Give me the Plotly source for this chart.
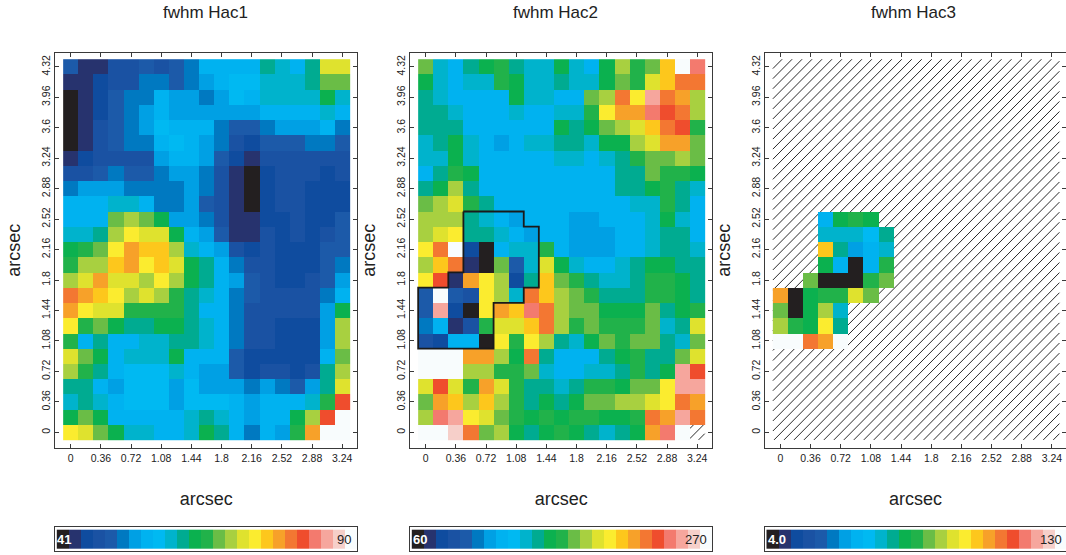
import plotly.graph_objects as go

W, H = 1066, 555
N = None

palette = ["#231F20", "#27336E", "#0F4C9F", "#1A52A3", "#1C5AA9", "#0079C1", "#00A0E4", "#00B2F0",
           "#00B9F2", "#00B3CC", "#00AB91", "#0BB14F", "#21B24A", "#6ABD46", "#A8D040", "#DFE22E",
           "#FBEC2F", "#FDC71C", "#F7A129", "#F37732", "#EF4D2D", "#F37A6E", "#F6A69D", "#F6CFC9", "#F8FCFD"]

# colour level of each spaxel; rows run from the top of the map (4.32) to the bottom (0)
hac1 = [
    [4,1,1,3,3,4,3,4,5,7,7,7,7,10,9,7,10,15,15],
    [1,1,2,3,3,5,5,4,5,6,7,8,8,9,9,9,10,13,13],
    [0,1,2,4,5,5,7,6,6,5,6,8,7,9,9,9,9,11,9],
    [0,1,2,4,5,6,7,6,6,6,6,6,6,7,7,7,7,9,7],
    [0,1,3,4,5,6,8,7,7,7,5,4,4,5,6,6,6,7,5],
    [0,1,3,4,5,5,7,8,7,6,5,3,2,4,4,4,5,5,4],
    [1,2,3,3,3,3,6,7,7,6,4,2,1,3,3,3,3,3,3],
    [3,3,4,5,4,4,5,6,6,5,3,1,0,2,3,3,3,2,3],
    [5,6,6,6,5,5,5,5,6,5,3,1,0,2,3,3,2,2,2],
    [7,7,7,9,9,7,5,5,6,4,3,1,0,2,3,3,2,2,2],
    [7,7,7,13,14,13,11,6,6,5,3,1,1,2,2,3,2,2,4],
    [9,9,10,14,16,15,15,11,7,6,4,1,1,3,2,3,2,3,4],
    [11,12,13,16,18,17,17,14,9,7,6,3,2,3,2,2,2,4,4],
    [12,14,14,17,18,16,17,15,11,10,7,5,3,3,2,2,2,4,5],
    [14,15,18,15,15,14,16,14,11,10,7,6,4,3,2,2,3,4,6],
    [19,18,17,16,14,15,14,12,10,9,7,5,4,3,3,3,3,5,7],
    [18,16,15,15,12,12,12,12,10,7,7,5,3,3,3,3,3,6,11],
    [16,12,13,11,10,10,11,11,10,9,7,5,3,3,2,2,2,6,14],
    [12,7,10,7,7,9,9,10,10,9,7,5,3,3,2,2,2,6,14],
    [15,13,11,7,9,9,9,11,7,7,7,4,2,2,2,2,2,7,13],
    [14,12,10,7,8,8,8,9,7,6,6,4,2,3,3,2,3,10,14],
    [10,10,7,6,8,8,8,6,8,6,6,6,5,6,5,4,6,10,15],
    [9,10,9,7,8,8,8,6,8,8,8,7,6,7,7,7,9,12,20],
    [11,13,11,7,7,7,7,7,9,10,9,7,6,7,7,11,14,20,24],
    [16,15,13,11,9,9,7,7,9,11,10,7,5,7,6,12,18,24,24],
]
hac2 = [
    [13,9,7,10,11,12,10,9,9,11,9,7,11,14,12,13,17,24,21],
    [11,9,7,9,9,12,11,9,9,10,9,9,11,13,12,15,17,19,19],
    [10,9,7,7,7,7,11,9,9,7,7,13,14,19,16,22,19,18,14],
    [10,10,9,7,7,7,9,7,7,9,9,12,16,18,18,21,20,19,14],
    [10,10,10,7,7,7,7,7,7,11,10,11,13,14,15,17,19,20,12],
    [9,10,11,9,7,6,7,9,9,10,10,9,11,11,14,15,18,18,13],
    [9,9,11,9,7,7,7,7,7,9,9,7,9,10,12,13,13,14,13],
    [7,10,12,11,7,7,7,7,7,7,7,7,7,10,10,13,12,12,11],
    [10,11,14,10,7,7,7,7,7,7,7,7,7,10,10,11,12,10,9],
    [13,14,15,12,10,7,7,7,7,7,7,7,7,7,9,9,12,10,7],
    [14,14,14,10,9,7,6,7,7,7,6,6,7,7,7,9,11,9,7],
    [14,15,16,10,10,9,7,6,7,7,6,6,6,7,7,9,10,10,7],
    [16,19,24,2,0,7,9,9,12,7,6,6,6,7,7,9,10,10,9],
    [14,17,19,1,0,13,4,9,15,11,9,7,7,9,10,11,11,10,10],
    [16,20,1,18,16,14,2,10,17,13,12,10,9,9,10,12,12,11,10],
    [4,24,4,3,16,14,9,19,17,14,13,12,10,10,10,12,12,11,10],
    [4,22,2,0,16,18,17,21,19,14,13,13,11,11,11,13,10,11,12],
    [5,7,1,3,12,15,15,17,19,14,12,13,12,12,12,13,9,10,15],
    [3,2,7,7,0,16,12,16,14,10,9,11,13,12,13,13,10,9,13],
    [24,24,24,18,18,14,11,19,10,7,7,7,10,11,12,10,10,13,15],
    [24,24,24,14,14,12,12,13,9,7,7,9,9,10,12,10,11,22,20],
    [15,20,15,12,18,15,12,10,10,9,10,12,12,11,13,13,16,22,22],
    [13,18,17,14,17,14,12,10,11,10,11,13,13,14,14,15,16,19,18],
    [14,21,22,16,15,13,12,11,12,11,12,12,11,11,12,19,18,22,19],
    [24,24,23,19,13,14,11,10,11,12,11,10,9,10,11,18,21,24,N],
]
blank = [N] * 19
hac3 = [
    blank, blank, blank, blank, blank, blank, blank, blank, blank, blank,
    [N,N,N,7,11,12,11,N,N,N,N,N,N,N,N,N,N,N,N],
    [N,N,N,9,9,9,8,10,N,N,N,N,N,N,N,N,N,N,N],
    [N,N,N,17,10,6,7,9,N,N,N,N,N,N,N,N,N,N,N],
    [N,N,N,11,7,0,7,12,N,N,N,N,N,N,N,N,N,N,N],
    [N,N,13,0,0,0,12,13,N,N,N,N,N,N,N,N,N,N,N],
    [18,0,11,12,12,15,13,N,N,N,N,N,N,N,N,N,N,N,N],
    [13,0,11,14,9,N,N,N,N,N,N,N,N,N,N,N,N,N,N],
    [14,12,11,16,10,N,N,N,N,N,N,N,N,N,N,N,N,N,N],
    [24,24,19,18,24,N,N,N,N,N,N,N,N,N,N,N,N,N,N],
    blank, blank, blank, blank, blank, blank,
]

step = 0.18
x_vals = [round(i * step, 2) for i in range(19)]
y_vals = [round(i * step, 2) for i in range(25)]
x_ticks = [0, 0.36, 0.72, 1.08, 1.44, 1.8, 2.16, 2.52, 2.88, 3.24]
y_ticks = [0, 0.36, 0.72, 1.08, 1.44, 1.8, 2.16, 2.52, 2.88, 3.24, 3.6, 3.96, 4.32]

titles = ["fwhm Hac1", "fwhm Hac2", "fwhm Hac3"]
bar_low = ["41", "60", "4.0"]
bar_high = ["90", "270", "130"]
panels = [hac1, hac2, hac3]

# outline on the Hac2 map, as spaxel-edge indices
contour_cols = [3, 7, 7, 8, 8, 7, 7, 5, 5, 0, 0, 2, 2, 3, 3]
contour_rows = [15, 15, 14, 14, 10, 10, 9, 9, 6, 6, 10, 10, 11, 11, 15]

frame_left = [55.3, 410.3, 765.0]
frame_right = [357.3, 712.3, 1066.0]
frame_top, frame_bottom = 52.5, 447.8
zero_x = [70.7, 425.7, 780.4]
zero_y = 432.3
xscale, yscale = 83.8, 84.6
bar_top, bar_bottom = 527.3, 550.7
low_px = [64, 420, 777]
high_px = [344, 696, 1051]
title_px = [205.5, 555, 913.5]

FONT = "Liberation Sans"
INK = "#3a3a3a"


def hatch_path(x0, x1, y0, y1, spacing=0.119, phase=2.128):
    parts = []
    k = -60
    while k < 60:
        c = phase + k * spacing
        k += 1
        xa = max(x0, y0 - c)
        xb = min(x1, y1 - c)
        if xb > xa:
            parts.append(f"M{xa:.4f},{xa + c:.4f}L{xb:.4f},{xb + c:.4f}")
    return "".join(parts)


fig = go.Figure()
cs = []
for i, c in enumerate(palette):
    cs.append([i / 25, c])
    cs.append([(i + 1) / 25, c])

layout = {}
shapes = []
annotations = []
edge = step / 2

for p in range(3):
    n = p * 2 + 1
    xa, ya = f"x{n}", f"y{n}"
    xb, yb = f"x{n + 1}", f"y{n + 1}"
    key = lambda s, k: f"{s}axis{k}"

    fig.add_trace(go.Heatmap(z=panels[p][::-1], x=x_vals, y=y_vals, xaxis=xa, yaxis=ya,
                             colorscale=cs, zmin=-0.5, zmax=24.5, showscale=False,
                             hoverongaps=False))
    layout[key("x", n)] = dict(
        domain=[frame_left[p] / W, frame_right[p] / W], anchor=ya,
        range=[(frame_left[p] - zero_x[p]) / xscale, (frame_right[p] - zero_x[p]) / xscale],
        tickmode="array", tickvals=x_ticks, ticktext=[f"{v:g}" for v in x_ticks],
        ticks="inside", ticklen=4, tickwidth=1, tickcolor=INK, showgrid=False, zeroline=False,
        showline=True, linecolor=INK, linewidth=1.2, mirror="ticks", tickangle=0,
        tickfont=dict(family=FONT, size=10.5, color="#222"),
        title=dict(text="arcsec", font=dict(family=FONT, size=18, color="#222"), standoff=29),
    )
    layout[key("y", n)] = dict(
        domain=[1 - frame_bottom / H, 1 - frame_top / H], anchor=xa,
        range=[(zero_y - frame_bottom) / yscale, (zero_y - frame_top) / yscale],
        tickmode="array", tickvals=y_ticks, ticktext=[f"{v:g}" for v in y_ticks],
        ticks="inside", ticklen=4, tickwidth=1, tickcolor=INK, showgrid=False, zeroline=False,
        showline=True, linecolor=INK, linewidth=1.2, mirror="ticks", tickangle=-90,
        tickfont=dict(family=FONT, size=10.5, color="#222"),
        title=dict(text="arcsec", font=dict(family=FONT, size=18, color="#222"), standoff=14),
    )

    # colour key
    fig.add_trace(go.Heatmap(z=[list(range(25))], x=list(range(25)), y=[0], xaxis=xb, yaxis=yb,
                             colorscale=cs, zmin=-0.5, zmax=24.5, showscale=False, hoverinfo="skip"))
    span = frame_right[p] - frame_left[p]
    layout[key("x", n + 1)] = dict(
        domain=[frame_left[p] / W, frame_right[p] / W], anchor=yb,
        range=[-0.5 - 1.5 / 12, -0.5 + (span - 1.5) / 12],
        showticklabels=False, ticks="", showgrid=False, zeroline=False,
        showline=True, linecolor=INK, linewidth=1.2, mirror=True,
    )
    layout[key("y", n + 1)] = dict(
        domain=[1 - bar_bottom / H, 1 - bar_top / H], anchor=xb,
        range=[-0.5 - 2 / 19, 0.5 + 2.4 / 19],
        showticklabels=False, ticks="", showgrid=False, zeroline=False,
        showline=True, linecolor=INK, linewidth=1.2, mirror=True,
    )
    annotations.append(dict(text=f"<b>{bar_low[p]}</b>", xref="paper", yref="paper",
                            x=low_px[p] / W, y=1 - 539.5 / H, xanchor="center", yanchor="middle",
                            showarrow=False, font=dict(family=FONT, size=13, color="white")))
    annotations.append(dict(text=bar_high[p], xref="paper", yref="paper",
                            x=high_px[p] / W, y=1 - 539.5 / H, xanchor="center", yanchor="middle",
                            showarrow=False, font=dict(family=FONT, size=13, color="#222")))
    annotations.append(dict(text=titles[p], xref="paper", yref="paper",
                            x=title_px[p] / W, y=1 - 12 / H,
                            xanchor="center", yanchor="middle", showarrow=False,
                            font=dict(family=FONT, size=17, color="#222")))

# hatching for missing spaxels sits under the maps
shapes.append(dict(type="path", xref="x5", yref="y5", layer="below",
                   path=hatch_path(-edge, 3.24 + edge, -edge, 4.32 + edge),
                   line=dict(color="#2a2a2a", width=1)))
shapes.append(dict(type="path", xref="x3", yref="y3", layer="below",
                   path=hatch_path(3.24 - edge, 3.24 + edge, -edge, edge),
                   line=dict(color="#2a2a2a", width=1)))

fig.add_trace(go.Scatter(
    x=[(c - 0.5) * step for c in contour_cols],
    y=[(r - 0.5) * step for r in contour_rows],
    xaxis="x3", yaxis="y3", mode="lines", hoverinfo="skip", showlegend=False,
    line=dict(color="#1a1a1a", width=1.8, shape="linear"),
))

fig.update_layout(width=W, height=H, margin=dict(l=0, r=0, t=0, b=0), autosize=False,
                  paper_bgcolor="white", plot_bgcolor="white", showlegend=False,
                  shapes=shapes, annotations=annotations, **layout)
fig.write_html("out.html", config={"displayModeBar": False},
               post_script="document.body.style.margin='0';document.body.style.overflow='hidden';")
